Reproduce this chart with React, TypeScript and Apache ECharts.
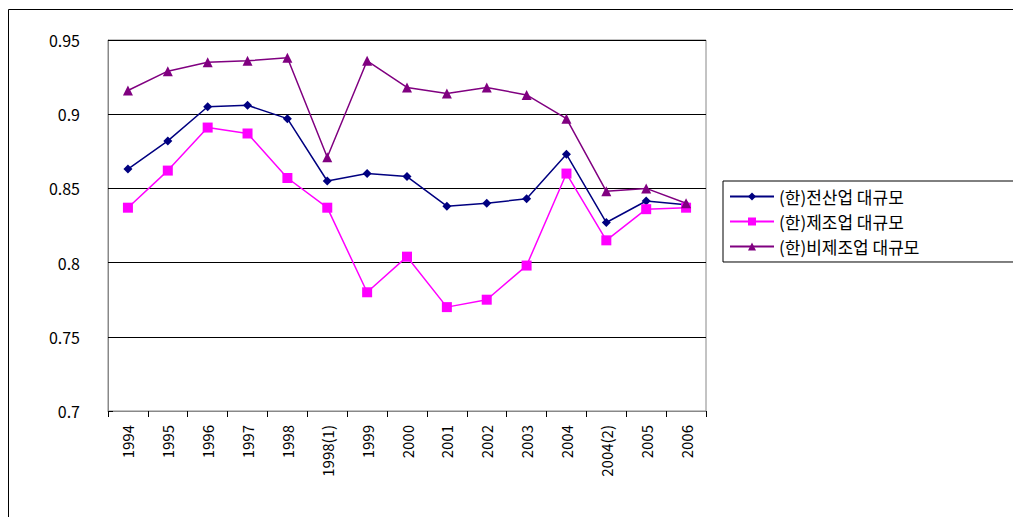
import React, { useEffect, useRef } from "react";
import * as echarts from "echarts";

const categories = ["1994","1995","1996","1997","1998","1998(1)","1999","2000","2001","2002","2003","2004","2004(2)","2005","2006"];
const seriesNames = ["(한)전산업 대규모", "(한)제조업 대규모", "(한)비제조업 대규모"];
const allInd = [0.863,0.882,0.905,0.906,0.897,0.855,0.860,0.858,0.838,0.840,0.843,0.873,0.827,0.8415,0.839];
const manuf = [0.837,0.862,0.891,0.887,0.857,0.837,0.780,0.804,0.770,0.775,0.798,0.860,0.815,0.836,0.837];
const nonManuf = [0.916,0.929,0.935,0.936,0.938,0.871,0.936,0.918,0.914,0.918,0.913,0.897,0.848,0.850,0.840];
const colors = ["#000080", "#FF00FF", "#800080"];
const symbols = ["diamond", "rect", "triangle"];

export default function App() {
  const ref = useRef<HTMLDivElement>(null);
  useEffect(() => {
    const chart = echarts.init(ref.current!, null, { renderer: "svg" });
    const font = "'Noto Sans CJK KR', sans-serif";
    chart.setOption({
      animation: false,
      textStyle: { fontFamily: font },
      graphic: [
        { type: "rect", shape: { x: 0.5, y: 1.5, width: 1012, height: 520 }, style: { fill: "none", stroke: "#000", lineWidth: 1 } },
      ],
      grid: { left: 100, top: 32, width: 598, height: 371, show: true, borderColor: "#888", borderWidth: 1 },
      legend: {
        orient: "vertical", left: 715, top: 173,
        padding: [7, 110, 7, 6], itemGap: 8, itemWidth: 44, itemHeight: 10,
        borderColor: "#000", borderWidth: 1,
        textStyle: { fontSize: 17, color: "#000", fontFamily: font },
        data: seriesNames,
      },
      xAxis: {
        type: "category", data: categories, boundaryGap: true,
        axisLine: { lineStyle: { color: "#888" } },
        axisTick: { show: true, lineStyle: { color: "#000" }, length: 6 },
        axisLabel: { rotate: 90, interval: 0, fontSize: 15, color: "#000", margin: 14 },
      },
      yAxis: {
        type: "value", min: 0.7, max: 0.95, interval: 0.05,
        axisLine: { show: true, lineStyle: { color: "#888" } },
        axisTick: { show: true, inside: true, lineStyle: { color: "#000" } },
        splitLine: { lineStyle: { color: "#000" } },
        axisLabel: { fontSize: 16, color: "#000", margin: 28, formatter: (v: number) => String(+v.toFixed(2)) },
      },
      series: [allInd, manuf, nonManuf].map((d, i) => ({
        name: seriesNames[i], type: "line", data: d, symbol: symbols[i],
        symbolSize: i === 0 ? 9 : 10,
        itemStyle: { color: colors[i] }, lineStyle: { color: colors[i], width: 1.5 },
      })),
    });
    return () => chart.dispose();
  }, []);
  return <div ref={ref} style={{ width: 1013, height: 509 }} />;
}
